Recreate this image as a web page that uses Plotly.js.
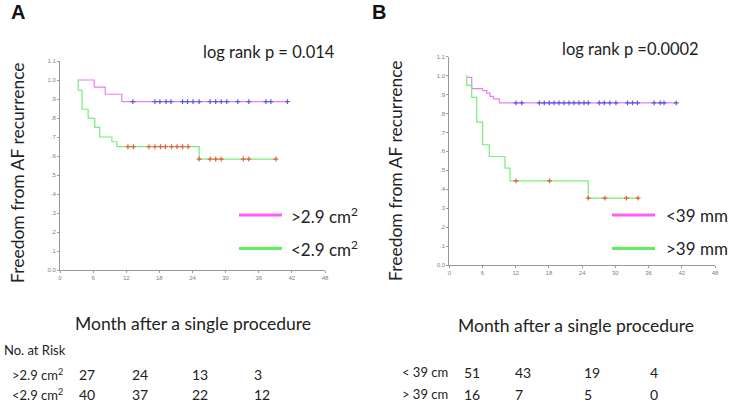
<!DOCTYPE html>
<html>
<head>
<meta charset="utf-8">
<script src="https://cdn.plot.ly/plotly-3.0.1.min.js"></script>
<style>html,body{margin:0;padding:0;background:#fff;}#chart{width:729px;height:403px;}</style>
</head>
<body>
<div id="chart"></div>
<script>
// ---- Panel A data (LA area) ----
var aHighX = [3.2, 6.2, 8.2, 11.2, 41.2];
var aHighY = [1.0, 0.962, 0.925, 0.886, 0.886];
var aHighCensX = [13.2, 17.2, 18.1, 19.2, 20.1, 22.2, 23.1, 24.1, 25.2, 27.2, 28.2, 29.2, 30.2, 32.2, 34.2, 37.3, 38.2, 41.2];
var aHighCensY = 0.886;
var aLowX = [3.2, 3.3, 4.0, 5.1, 6.3, 7.2, 9.4, 10.3, 25.2, 39.2];
var aLowY = [1.0, 0.947, 0.846, 0.798, 0.751, 0.70, 0.675, 0.649, 0.584, 0.584];
var aLowCens1X = [12.3, 13.3, 16.1, 17.2, 18.2, 19.1, 20.2, 21.2, 22.2, 23.2];
var aLowCens1Y = 0.649;
var aLowCens2X = [25.2, 27.2, 28.2, 29.2, 33.2, 34.2, 39.1];
var aLowCens2Y = 0.584;

// ---- Panel B data (LA diameter) ----
var bLowX = [3.25, 4.05, 6.03, 6.76, 7.35, 7.95, 9.03, 41.0];
var bLowY = [0.991, 0.931, 0.921, 0.908, 0.890, 0.877, 0.856, 0.856];
var bLowCensX = [12.05, 13.08, 16.26, 17.16, 18.07, 18.92, 19.82, 20.72, 21.62, 22.53, 23.43, 24.33, 25.1, 27.1, 28.0, 29.0, 30.1, 32.2, 33.1, 34.0, 37.0, 38.1, 38.8, 41.0];
var bLowCensY = 0.856;
var bHighX = [3.1, 3.15, 4.05, 4.95, 6.03, 7.23, 10.06, 10.97, 25.1, 34.1];
var bHighY = [1.0, 0.949, 0.885, 0.755, 0.635, 0.573, 0.512, 0.444, 0.353, 0.353];
var bHighCens1X = [12.05, 18.1];
var bHighCens1Y = 0.444;
var bHighCens2X = [25.1, 28.1, 32.0, 34.1];
var bHighCens2Y = 0.353;

// ---- ticks ----
var xTickVals = [0, 6, 12, 18, 24, 30, 36, 42, 48];
var xTickText = ["0", "6", "12", "18", "24", "30", "36", "42", "48"];
var yTickVals = [0, 0.1, 0.2, 0.3, 0.4, 0.5, 0.6, 0.7, 0.8, 0.9, 1.0, 1.1];
var yTickText = ["0.0", ".1", ".2", ".3", ".4", ".5", ".6", ".7", ".8", ".9", "1.0", "1.1"];

// ---- legends / texts ----
var aLegend = ["&gt;2.9 cm<sup>2</sup>", "&lt;2.9 cm<sup>2</sup>"];
var bLegend = ["&lt;39 mm", "&gt;39 mm"];
var aPText = "log rank p = 0.014";
var bPText = "log rank p =0.0002";

// ---- numbers at risk ----
var aRiskLabels = ["&gt;2.9 cm<sup>2</sup>", "&lt;2.9 cm<sup>2</sup>"];
var aRiskRow1 = ["27", "24", "13", "3"];
var aRiskRow2 = ["40", "37", "22", "12"];
var bRiskLabels = ["&lt; 39 cm", "&gt; 39 cm"];
var bRiskRow1 = ["51", "43", "19", "4"];
var bRiskRow2 = ["16", "7", "5", "0"];

var PINK = "#ee7cee", GREEN = "#78ec78", BLUE = "#5a5ae6", RED = "#ee5a3c";
var PINKL = "#ff5cff", GREENL = "#5cf05c";
var W = 729, H = 403;
function px(x) { return x / W; }
function py(y) { return 1 - y / H; }
function rep(v, n) { var a = []; for (var i = 0; i < n; i++) a.push(v); return a; }

function stepTrace(x, y, color, xa, ya) {
  return {x: x, y: y, mode: "lines", line: {shape: "hv", color: color, width: 1.2}, xaxis: xa, yaxis: ya, hoverinfo: "skip", showlegend: false};
}
function censTrace(x, yv, color, xa, ya) {
  return {x: x, y: rep(yv, x.length), mode: "markers", marker: {symbol: "cross-thin", size: 3.5, line: {color: color, width: 1.2}}, xaxis: xa, yaxis: ya, hoverinfo: "skip", showlegend: false};
}

var traces = [
  stepTrace(aHighX, aHighY, PINK, "x", "y"),
  stepTrace(aLowX, aLowY, GREEN, "x", "y"),
  censTrace(aHighCensX, aHighCensY, BLUE, "x", "y"),
  censTrace(aLowCens1X, aLowCens1Y, RED, "x", "y"),
  censTrace(aLowCens2X, aLowCens2Y, RED, "x", "y"),
  stepTrace(bLowX, bLowY, PINK, "x2", "y2"),
  stepTrace(bHighX, bHighY, GREEN, "x2", "y2"),
  censTrace(bLowCensX, bLowCensY, BLUE, "x2", "y2"),
  censTrace(bHighCens1X, bHighCens1Y, RED, "x2", "y2"),
  censTrace(bHighCens2X, bHighCens2Y, RED, "x2", "y2")
];

var FONT = "Lato, 'Open Sans', sans-serif";
var tickFont = {family: "Arial, 'Liberation Sans', sans-serif", size: 6, color: "#808080"};
function xAx(dom, anchor) {
  return {domain: dom, anchor: anchor, range: [0, 48], tickvals: xTickVals, ticktext: xTickText, showline: true, linecolor: "#999", linewidth: 1,
    ticks: "outside", ticklen: 2, tickcolor: "#999", tickfont: tickFont, showgrid: false, zeroline: false, fixedrange: true};
}
function yAx(dom, anchor) {
  return {domain: dom, anchor: anchor, range: [0, 1.1], tickvals: yTickVals, ticktext: yTickText, showline: true, linecolor: "#999", linewidth: 1,
    ticks: "outside", ticklen: 2, tickcolor: "#999", tickfont: tickFont, showgrid: false, zeroline: false, fixedrange: true};
}

var ann = [];
function txt(x, y, s, size, opts) {
  var o = {xref: "paper", yref: "paper", x: px(x), y: py(y), text: s, showarrow: false, xanchor: "left", yanchor: "middle",
    font: {family: FONT, size: size, color: "#222"}};
  if (opts) for (var k in opts) o[k] = opts[k];
  ann.push(o);
}
var boldFont = {family: "Arial, 'Liberation Sans', sans-serif", size: 20, color: "#111"};
// Panel letters
txt(9, 12, "<b>A</b>", 20, {font: boldFont});
txt(370, 12, "<b>B</b>", 20, {font: boldFont});
// log rank
txt(201, 52, aPText, 16.5);
txt(560, 49, bPText, 16.5);
// axis titles
txt(18, 173, "Freedom from AF recurrence", 17.5, {xanchor: "center", textangle: -90});
txt(395, 171, "Freedom from AF recurrence", 17.5, {xanchor: "center", textangle: -90});
txt(193, 323, "Month after a single procedure", 17.5, {xanchor: "center"});
txt(576, 325, "Month after a single procedure", 17.5, {xanchor: "center"});
// legends
txt(289, 215, aLegend[0], 17);
txt(289, 249, aLegend[1], 17);
txt(664, 215, bLegend[0], 17);
txt(664, 249, bLegend[1], 17);
// risk table A
txt(2, 350, "No. at Risk", 13);
var aCols = [77, 130, 190, 252];
txt(10, 374, aRiskLabels[0], 13);
txt(10, 394, aRiskLabels[1], 13);
for (var i = 0; i < 4; i++) { txt(aCols[i], 374, aRiskRow1[i], 14); txt(aCols[i], 394, aRiskRow2[i], 14); }
// risk table B
var bCols = [462, 513, 582, 648];
txt(400, 372, bRiskLabels[0], 13);
txt(400, 394, bRiskLabels[1], 13);
for (var j = 0; j < 4; j++) { txt(bCols[j], 372, bRiskRow1[j], 14); txt(bCols[j], 394, bRiskRow2[j], 14); }

var shapes = [
  {type: "line", xref: "paper", yref: "paper", x0: px(239), x1: px(282), y0: py(215), y1: py(215), line: {color: PINKL, width: 3}},
  {type: "line", xref: "paper", yref: "paper", x0: px(239), x1: px(282), y0: py(248.5), y1: py(248.5), line: {color: GREENL, width: 3}},
  {type: "line", xref: "paper", yref: "paper", x0: px(612), x1: px(655), y0: py(215), y1: py(215), line: {color: PINKL, width: 3}},
  {type: "line", xref: "paper", yref: "paper", x0: px(612), x1: px(655), y0: py(248.5), y1: py(248.5), line: {color: GREENL, width: 3}}
];

var layout = {
  width: W, height: H, margin: {l: 0, r: 0, t: 0, b: 0}, paper_bgcolor: "#fff", plot_bgcolor: "#fff",
  showlegend: false,
  xaxis: xAx([px(60), px(325)], "y"),
  yaxis: yAx([1 - 270 / H, 1 - 61 / H], "x"),
  xaxis2: xAx([px(449.3), px(715)], "y2"),
  yaxis2: yAx([1 - 265 / H, 1 - 56.7 / H], "x2"),
  annotations: ann, shapes: shapes
};
Plotly.newPlot("chart", traces, layout, {staticPlot: true, displayModeBar: false});
</script>
</body>
</html>
